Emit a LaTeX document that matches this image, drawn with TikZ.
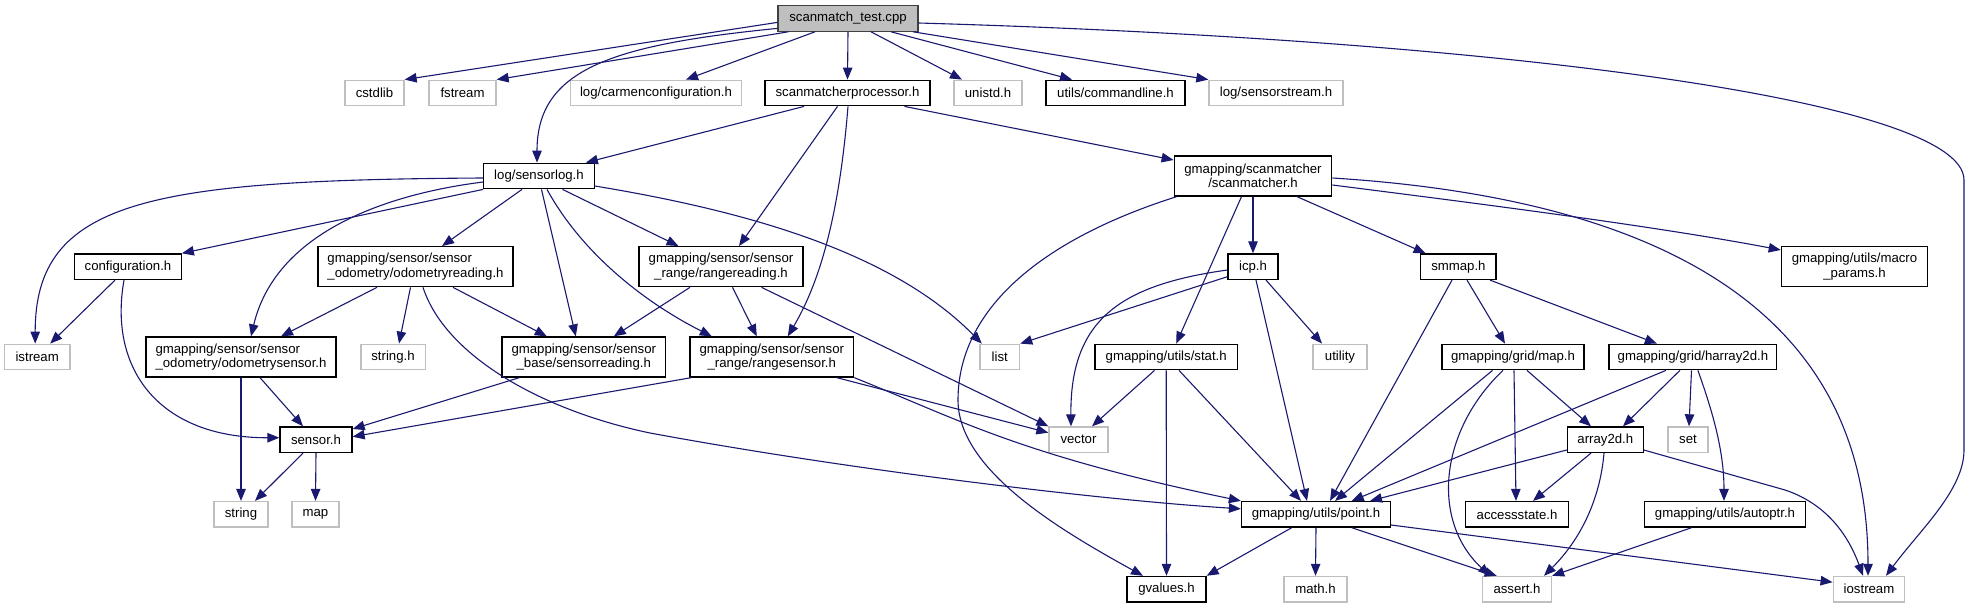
\documentclass[tikz,border=0pt]{standalone}
\usepackage{fontspec}
\setmainfont{Liberation Sans}
\usetikzlibrary{arrows.meta,calc}
\definecolor{edgeblue}{HTML}{191970}
\definecolor{extgray}{HTML}{BFBFBF}
\begin{document}
\begin{tikzpicture}[x=1pt,y=-1pt,
  box/.style={draw=black, line width=1.3pt, rectangle, inner sep=0pt, minimum height=25.5pt, font=\fontsize{13.2}{14.5}\selectfont, text=black},
  ext/.style={box, draw=extgray},
  two/.style={minimum height=40pt, align=center},
  twol/.style={minimum height=40pt, align=left},
  rootbox/.style={box, fill=extgray, draw=black!75},
  dep/.style={draw=edgeblue, line width=1.1pt, -{Triangle[length=12pt,width=9.5pt]}}
]
\useasboundingbox (0,0) rectangle (1971,608);
% row 0
\node[rootbox, minimum width=140pt] (root) at (848,18.4) {scanmatch\_test.cpp};
% row 1
\node[ext, minimum width=59pt] (cstdlib) at (374.5,93) {cstdlib};
\node[ext, minimum width=67pt] (fstream) at (462.5,93) {fstream};
\node[ext, minimum width=171pt] (carmen) at (656,93) {log/carmenconfiguration.h};
\node[box, minimum width=165pt] (scanproc) at (847.5,93) {scanmatcherprocessor.h};
\node[ext, minimum width=68pt] (unistd) at (988,93) {unistd.h};
\node[box, minimum width=139pt] (cmdline) at (1115.5,93) {utils/commandline.h};
\node[ext, minimum width=134pt] (sstream) at (1276,93) {log/sensorstream.h};
% row 2
\node[box, minimum width=110.5pt] (sensorlog) at (539,176) {log/sensorlog.h};
\node[box, two, minimum width=157.5pt] (scanmatcher) at (1253,176) {gmapping/scanmatcher\\/scanmatcher.h};
% row 3
\node[box, minimum width=106.5pt] (config) at (128,266.7) {configuration.h};
\node[box, twol, minimum width=195pt] (odoread) at (415.5,266.7) {gmapping/sensor/sensor\\\_odometry/odometryreading.h};
\node[box, two, minimum width=164pt] (rangeread) at (721,266.7) {gmapping/sensor/sensor\\\_range/rangereading.h};
\node[box, minimum width=50pt] (icp) at (1253,266.7) {icp.h};
\node[box, minimum width=75.3pt] (smmap) at (1458.4,266.7) {smmap.h};
\node[box, two, minimum width=146.3pt] (macro) at (1854.5,266.7) {gmapping/utils/macro\\\_params.h};
% row 4
\node[ext, minimum width=65.5pt] (istream) at (37.2,357) {istream};
\node[box, twol, minimum width=190pt] (odosensor) at (241,357) {gmapping/sensor/sensor\\\_odometry/odometrysensor.h};
\node[ext, minimum width=64.3pt] (stringh) at (393,357) {string.h};
\node[box, two, minimum width=163.6pt] (sensread) at (583.8,357) {gmapping/sensor/sensor\\\_base/sensorreading.h};
\node[box, two, minimum width=163.6pt] (rangesensor) at (771.8,357) {gmapping/sensor/sensor\\\_range/rangesensor.h};
\node[ext, minimum width=39.6pt] (list) at (999.8,357) {list};
\node[box, minimum width=142.5pt] (stat) at (1166.2,357) {gmapping/utils/stat.h};
\node[ext, minimum width=54pt] (utility) at (1340,357) {utility};
\node[box, minimum width=142pt] (maph) at (1513,357) {gmapping/grid/map.h};
\node[box, minimum width=167.7pt] (harray) at (1692.9,357) {gmapping/grid/harray2d.h};
% row 5
\node[box, minimum width=72pt] (sensorh) at (316,439.7) {sensor.h};
\node[ext, minimum width=59pt] (vector) at (1078.5,439.7) {vector};
\node[box, minimum width=75.8pt] (array2d) at (1605.3,439.7) {array2d.h};
\node[ext, minimum width=39.8pt] (set) at (1688,439.7) {set};
% row 6
\node[ext, minimum width=54pt] (string) at (241,514.3) {string};
\node[ext, minimum width=47pt] (map) at (315.5,514.3) {map};
\node[box, minimum width=149pt] (point) at (1316,514.3) {gmapping/utils/point.h};
\node[box, minimum width=103pt] (access) at (1517,514.3) {accessstate.h};
\node[box, minimum width=160.5pt] (autoptr) at (1725,514.3) {gmapping/utils/autoptr.h};
% row 7
\node[box, minimum width=79pt] (gvalues) at (1166.5,589.2) {gvalues.h};
\node[ext, minimum width=63pt] (math) at (1315.5,589.2) {math.h};
\node[ext, minimum width=69pt] (assert) at (1517,589.2) {assert.h};
\node[ext, minimum width=71.6pt] (iostream) at (1869,589.2) {iostream};

% edges from scanmatch_test.cpp
\draw[dep] ($(root.west)+(0,4)$) -- (cstdlib.north east);
\draw[dep] ($(root.south west)+(11,0)$) -- (fstream.north east);
\draw[dep] ($(root.west)+(0,10)$) .. controls (610,45) and (537,70) .. ($(sensorlog.north)+(-2,0)$);
\draw[dep] ($(root.south)+(-33,0)$) -- ($(carmen.north)+(30,0)$);
\draw[dep] (root.south) -- (scanproc.north);
\draw[dep] ($(root.south)+(23,0)$) -- ($(unistd.north)+(-26,0)$);
\draw[dep] ($(root.south)+(43,0)$) -- ($(cmdline.north)+(-43.5,0)$);
\draw[dep] ($(root.south)+(65,0)$) -- (sstream.north west);
\draw[dep] ($(root.east)+(0,4.6)$) .. controls (1500,40) and (1964,100) .. (1964,180) -- (1964,450) .. controls (1964,490) and (1920,530) .. ($(iostream.north)+(17,0)$);
% scanmatcherprocessor.h
\draw[dep] ($(scanproc.south)+(-43.5,0)$) -- ($(sensorlog.north east)+(-9,0)$);
\draw[dep] ($(scanproc.south)+(-10,0)$) -- ($(rangeread.north)+(18,0)$);
\draw[dep] ($(scanproc.south)+(0.5,0)$) .. controls (838,230) and (815,290) .. ($(rangesensor.north)+(16,0)$);
\draw[dep] ($(scanproc.south)+(57,0)$) -- ($(scanmatcher.west)+(0,-16)$);
% log/sensorlog.h
\draw[dep] ($(sensorlog.west)+(0,2)$) .. controls (150,180) and (35,200) .. ($(istream.north)+(-2,0)$);
\draw[dep] (sensorlog.south west) -- (config.north east);
\draw[dep] ($(sensorlog.west)+(0,6)$) .. controls (380,195) and (275,235) .. ($(odosensor.north)+(10,0)$);
\draw[dep] ($(sensorlog.south)+(-17,0)$) -- ($(odoread.north)+(26.5,0)$);
\draw[dep] ($(sensorlog.south)+(2.5,0)$) -- ($(sensread.north)+(-8,0)$);
\draw[dep] ($(sensorlog.south)+(8,0)$) .. controls (580,250) and (640,300) .. ($(rangesensor.north)+(-60,0)$);
\draw[dep] ($(sensorlog.south)+(23.5,0)$) -- ($(rangeread.north)+(-42.5,0)$);
\draw[dep] ($(sensorlog.east)+(0,10)$) .. controls (740,210) and (890,250) .. ($(list.north)+(-18,0)$);
% configuration.h
\draw[dep] ($(config.south)+(-13,0)$) -- ($(istream.north)+(13,0)$);
\draw[dep] ($(config.south)+(-4,0)$) .. controls (108,370) and (160,438) .. ($(sensorh.west)+(0,-2)$);
% odometryreading.h
\draw[dep] ($(odoread.south)+(-38.5,0)$) -- ($(odosensor.north)+(40,0)$);
\draw[dep] ($(odoread.south)+(-5,0)$) -- ($(stringh.north)+(6,0)$);
\draw[dep] ($(odoread.south)+(37.5,0)$) -- ($(sensread.north)+(-37,0)$);
\draw[dep] ($(odoread.south)+(7.5,0)$) .. controls (445,355) and (540,410) .. (650,433) .. controls (850,470) and (1100,500) .. ($(point.west)+(0,-5.5)$);
% rangereading.h
\draw[dep] ($(rangeread.south)+(-31,0)$) -- ($(sensread.north)+(30,0)$);
\draw[dep] ($(rangeread.south)+(11.5,0)$) -- ($(rangesensor.north)+(-15,0)$);
\draw[dep] ($(rangeread.south)+(40.5,0)$) -- (vector.north west);
% odometrysensor.h, sensorreading.h, rangesensor.h
\draw[dep] (odosensor.south) -- (string.north);
\draw[dep] ($(odosensor.south)+(19,0)$) -- ($(sensorh.north)+(-13,0)$);
\draw[dep] ($(sensread.south west)+(18,0)$) -- ($(sensorh.east)+(0,-10.7)$);
\draw[dep] ($(rangesensor.south west)+(2,0)$) -- ($(sensorh.east)+(0,-3)$);
\draw[dep] ($(rangesensor.south)+(65,0)$) -- ($(vector.west)+(0,-7)$);
\draw[dep] (rangesensor.south east) .. controls (960,420) and (1020,455) .. (point.north west);
% sensor.h
\draw[dep] ($(sensorh.south)+(-13,0)$) -- ($(string.north)+(14,0)$);
\draw[dep] (sensorh.south) -- (map.north);
% scanmatcher.h
\draw[dep] ($(scanmatcher.south west)+(3,0)$) .. controls (1040,240) and (958,310) .. (958,400) .. controls (958,470) and (1060,530) .. ($(gvalues.north)+(-23.5,0)$);
\draw[dep] ($(scanmatcher.south)+(-11.5,0)$) -- ($(stat.north)+(10,0)$);
\draw[dep] (scanmatcher.south) -- (icp.north);
\draw[dep] ($(scanmatcher.south)+(44,0)$) -- ($(smmap.north west)+(5.5,0)$);
\draw[dep] ($(scanmatcher.east)+(0,9)$) .. controls (1450,200) and (1650,225) .. ($(macro.west)+(0,-16.7)$);
\draw[dep] ($(scanmatcher.east)+(0,2)$) .. controls (1760,205) and (1868,380) .. ($(iostream.north)+(-1,0)$);
% icp.h
\draw[dep] ($(icp.west)+(0,10)$) -- (list.north east);
\draw[dep] ($(icp.west)+(0,3.3)$) .. controls (1120,285) and (1070,320) .. ($(vector.north)+(-7.5,0)$);
\draw[dep] ($(icp.south)+(13,0)$) -- ($(utility.north)+(-18,0)$);
\draw[dep] ($(icp.south)+(3,0)$) -- ($(point.north)+(-9,0)$);
% smmap.h
\draw[dep] ($(smmap.south)+(-6.4,0)$) -- ($(point.north)+(14,0)$);
\draw[dep] ($(smmap.south)+(8.6,0)$) -- ($(maph.north)+(-8,0)$);
\draw[dep] ($(smmap.south)+(31.6,0)$) -- ($(harray.north)+(-36,0)$);
% stat.h
\draw[dep] ($(stat.south)+(-11.7,0)$) -- ($(vector.north)+(13.5,0)$);
\draw[dep] (stat.south) -- (gvalues.north);
\draw[dep] ($(stat.south)+(12.8,0)$) -- ($(point.north)+(-15,0)$);
% map.h
\draw[dep] ($(maph.south)+(-20.5,0)$) -- ($(point.north)+(19,0)$);
\draw[dep] ($(maph.south)+(14,0)$) -- ($(array2d.north)+(-14.3,0)$);
\draw[dep] ($(maph.south)+(1,0)$) -- ($(access.north)+(-1,0)$);
\draw[dep] ($(maph.south)+(-10,0)$) .. controls (1440,430) and (1430,520) .. ($(assert.north)+(-27,0)$);
% harray2d.h
\draw[dep] ($(harray.south)+(-27,0)$) -- ($(point.north)+(35.7,0)$);
\draw[dep] ($(harray.south)+(-13,0)$) -- ($(array2d.north)+(17.7,0)$);
\draw[dep] ($(harray.south)+(-1.4,0)$) -- ($(set.north)+(1,0)$);
\draw[dep] ($(harray.south)+(5,0)$) .. controls (1712,410) and (1724,450) .. ($(autoptr.north)+(-1,0)$);
% array2d.h
\draw[dep] ($(array2d.west)+(0,10.3)$) -- ($(point.north)+(54,0)$);
\draw[dep] ($(array2d.south)+(-14.3,0)$) -- ($(access.north)+(16,0)$);
\draw[dep] ($(array2d.south)+(-1.3,0)$) .. controls (1600,500) and (1580,540) .. ($(assert.north)+(27,0)$);
\draw[dep] ($(array2d.east)+(0,10.3)$) -- (1785,490) .. controls (1830,505) and (1850,540) .. ($(iostream.north)+(-6,0)$);
% autoptr.h
\draw[dep] ($(autoptr.south)+(-33.5,0)$) -- (assert.north east);
% point.h
\draw[dep] ($(point.south)+(-24.3,0)$) -- (gvalues.north east);
\draw[dep] (point.south) -- (math.north);
\draw[dep] ($(point.south)+(35.7,0)$) -- ($(assert.north)+(-20.3,0)$);
\draw[dep] ($(point.east)+(0,10.7)$) -- ($(iostream.west)+(0,-7)$);
\end{tikzpicture}
\end{document}
